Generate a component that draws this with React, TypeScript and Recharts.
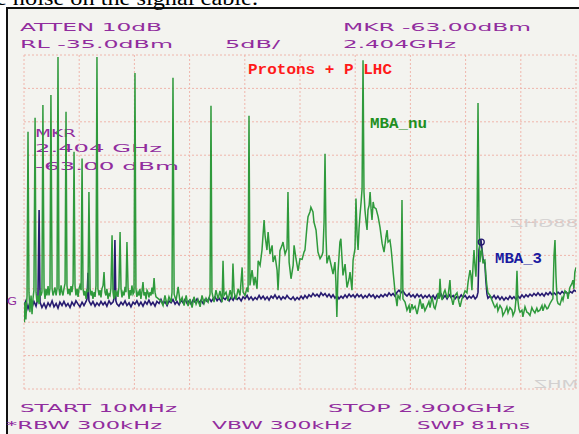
import { LineChart, Line, XAxis, YAxis, CartesianGrid, ReferenceDot } from "recharts";

// spectrum analyzer screen: 10 MHz .. 2.9 GHz, RL -35 dBm, 5 dB/div
const freqTicks = [10, 299, 588, 877, 1166, 1455, 1744, 2033, 2322, 2611, 2900];
const levelTicks = [-35, -40, -45, -50, -55, -60, -65, -70, -75, -80, -85];

const markerFreq = 2404;
const markerLevel = -63;

// [MHz, dBm]
const mbaNu: [number, number][] = [
  [12, -75], [15, -72], [20, -74.6], [26, -71], [31, -46.5], [36, -70.5], [41, -73.5], [47, -71], [52, -73.8], [57, -71.5],
  [62, -70.2], [68, -44.4], [73, -70.5], [78, -72], [83, -71], [89, -72.3], [94, -70.2], [99, -71], [104, -70.5], [109, -42.5],
  [115, -70], [120, -71.5], [125, -70], [130, -71], [136, -69.6], [141, -71], [146, -70], [151, -41], [157, -70], [162, -71],
  [167, -70.5], [172, -69.8], [178, -71], [183, -70], [188, -35.3], [193, -70], [198, -71], [204, -69.5], [209, -70.5], [214, -71],
  [219, -70], [225, -69.2], [230, -43.5], [235, -69.5], [240, -70.8], [246, -70], [251, -71], [256, -69.6], [261, -70.5], [267, -69.2],
  [272, -49.5], [277, -69.5], [282, -71], [288, -70], [293, -71.2], [298, -70], [303, -69.5], [309, -70.2], [314, -50.5], [319, -70],
  [324, -71], [329, -70.3], [335, -71.5], [340, -70], [345, -70.5], [350, -55.5], [356, -70], [361, -71], [366, -70.3], [371, -71.5],
  [377, -70.5], [382, -71.2], [387, -69.5], [392, -35.3], [397, -70], [403, -71], [408, -70.2], [413, -71.3], [418, -70], [424, -69.5],
  [429, -67.5], [434, -70.5], [439, -71], [444, -70], [450, -71.5], [455, -70.8], [460, -71], [465, -70], [471, -62], [476, -70.5],
  [481, -71.5], [486, -70.2], [491, -71], [497, -70.5], [502, -71.2], [507, -69.8], [513, -61.5], [518, -70], [523, -71.3], [528, -70.5],
  [534, -71], [539, -69.7], [544, -70.5], [549, -63], [555, -70], [560, -71.5], [565, -70.2], [570, -71], [575, -69.5], [581, -70.8],
  [586, -70.5], [591, -37.7], [596, -70], [601, -71.2], [607, -70.5], [612, -71], [617, -70], [622, -71.5], [628, -70.3], [633, -69],
  [638, -71], [644, -70.5], [649, -71.6], [654, -70.2], [659, -70.5], [664, -71.3], [670, -70.5], [675, -71], [680, -69.8], [685, -70.8],
  [691, -68.4], [696, -70.5], [701, -71.2], [727, -71.8], [738, -72.5], [748, -71], [759, -72.4], [769, -71.2], [780, -72], [785, -70.5],
  [790, -38.4], [796, -70.8], [806, -71.8], [817, -69.7], [827, -72], [838, -71.3], [848, -72.5], [859, -71], [869, -72.6], [879, -71.5],
  [890, -72.8], [900, -71.2], [911, -72.3], [921, -71.6], [932, -72.7], [942, -71], [953, -72.2], [963, -71.4], [974, -72], [984, -70.8],
  [989, -42.6], [994, -70.5], [1005, -72], [1015, -70.2], [1026, -71.5], [1036, -70.3], [1047, -72], [1052, -65.8], [1057, -71], [1068, -70.5],
  [1078, -71.8], [1089, -70.2], [1099, -71.5], [1104, -66.2], [1110, -70.5], [1120, -71.6], [1131, -70], [1141, -71], [1152, -66.8], [1157, -70.5],
  [1167, -71], [1178, -69.8], [1183, -70.5], [1188, -44.1], [1193, -69.5], [1204, -67.2], [1214, -69.5], [1220, -68.2], [1230, -70], [1236, -65.8],
  [1246, -66.5], [1256, -64.2], [1267, -59.7], [1272, -62], [1282, -64.2], [1288, -61.5], [1298, -64.8], [1309, -63.5], [1314, -66], [1324, -65],
  [1335, -67.2], [1340, -70.2], [1350, -64.3], [1361, -63.5], [1366, -63], [1377, -64.8], [1387, -64], [1392, -55.5], [1398, -66], [1408, -68.5],
  [1419, -66.5], [1424, -63.5], [1434, -65.5], [1445, -67.3], [1455, -65.5], [1466, -65.6], [1476, -64.5], [1481, -64.2], [1492, -60.5], [1497, -59.2],
  [1507, -58.5], [1512, -57.8], [1523, -58.5], [1528, -60], [1539, -61.2], [1549, -64.5], [1560, -65.5], [1570, -65], [1575, -64.5], [1581, -60],
  [1586, -49.8], [1591, -62], [1596, -66.2], [1607, -65], [1612, -65.7], [1622, -67], [1628, -67.8], [1638, -66], [1643, -69], [1648, -74.2],
  [1654, -67.5], [1664, -63], [1669, -62.5], [1675, -65.5], [1680, -68], [1691, -66.3], [1701, -69.8], [1712, -68.5], [1717, -67.5], [1727, -70.2],
  [1733, -65.7], [1743, -64], [1748, -56.5], [1754, -62], [1759, -64.2], [1764, -61], [1769, -59], [1775, -57], [1780, -55], [1785, -35.8],
  [1790, -55.5], [1795, -58.2], [1801, -60], [1806, -61.2], [1811, -58.2], [1817, -57.5], [1822, -55.5], [1827, -58], [1832, -59.7], [1838, -57],
  [1843, -57.8], [1853, -58], [1864, -59.2], [1874, -60.8], [1885, -63.2], [1895, -64.5], [1906, -62], [1911, -61.2], [1916, -63], [1926, -62.7],
  [1932, -64], [1937, -65.5], [1942, -67.3], [1952, -70.3], [1963, -72.6], [1968, -71], [1978, -71.5], [1984, -70], [1989, -56.7], [1994, -71.5],
  [2005, -72], [2015, -73.2], [2026, -72.5], [2031, -73.6], [2041, -72.3], [2047, -73], [2057, -72.6], [2068, -73.8], [2078, -72.4], [2083, -71.5],
  [2094, -73], [2099, -72.2], [2109, -73.3], [2120, -72.6], [2130, -71.9], [2136, -72.8], [2146, -71.2], [2157, -72.8], [2162, -73], [2172, -71.8],
  [2178, -70.6], [2183, -71.5], [2188, -68.5], [2193, -71], [2199, -71.7], [2209, -70.5], [2214, -70.2], [2225, -71.3], [2230, -71.2], [2240, -68.7],
  [2245, -71], [2256, -72.4], [2266, -71], [2277, -70.6], [2287, -72], [2293, -72.7], [2303, -71.5], [2308, -71.2], [2319, -70.3], [2329, -70.6],
  [2335, -69], [2345, -67.2], [2350, -68], [2355, -70.2], [2361, -66.5], [2366, -64.2], [2371, -66.5], [2376, -68.2], [2381, -65], [2387, -42.2],
  [2392, -60], [2397, -66], [2402, -64.5], [2407, -64.2], [2413, -66.2], [2418, -65.8], [2423, -65.7], [2428, -68], [2434, -69.7], [2439, -70.6],
  [2450, -71], [2460, -71.7], [2471, -72.5], [2476, -72.8], [2486, -72.3], [2491, -73.3], [2502, -72.5], [2512, -73], [2517, -74], [2528, -73.4],
  [2538, -72.7], [2544, -73.6], [2554, -72.8], [2565, -73.2], [2570, -74], [2580, -73.3], [2586, -71.5], [2591, -67.3], [2596, -71.8], [2601, -73],
  [2607, -73.5], [2617, -73.2], [2622, -74.2], [2633, -72.7], [2643, -73.5], [2649, -73.6], [2659, -74], [2669, -72.8], [2675, -73.2], [2685, -73.6],
  [2695, -72.9], [2701, -73.4], [2711, -73.2], [2722, -72.5], [2727, -73.3], [2737, -72.4], [2748, -73], [2753, -72.9], [2764, -72.2], [2774, -71.7],
  [2779, -71.5], [2785, -65], [2790, -62.7], [2795, -68], [2801, -71.7], [2806, -72.2], [2816, -72.4], [2827, -71.3], [2832, -71.7], [2842, -70.3],
  [2853, -70.6], [2858, -71.5], [2868, -69.8], [2879, -69.2], [2884, -68.7], [2889, -70], [2894, -67.5], [2900, -66.8],
];

const mba3: [number, number][] = [
  [10, -72.5], [20, -71.8], [31, -73], [41, -72], [52, -72.8], [62, -71.9], [73, -72.6], [78, -72], [83, -71.5], [89, -58.2],
  [94, -72], [104, -72.8], [115, -72.2], [125, -72.9], [136, -72.1], [146, -72.6], [157, -71.8], [167, -72.7], [178, -72.2], [188, -72.9],
  [198, -72], [209, -72.5], [219, -71.9], [230, -72.6], [240, -72.2], [251, -72.8], [261, -72], [272, -72.5], [282, -71.8], [293, -72.3],
  [303, -72.7], [314, -72], [324, -72.5], [335, -71.9], [340, -71.5], [345, -67.6], [350, -71.8], [361, -72.4], [371, -71.9], [382, -72.6],
  [392, -72.1], [403, -72.5], [413, -71.9], [424, -72.4], [434, -72], [444, -72.6], [455, -71.8], [465, -72.3], [476, -72], [481, -71.5],
  [486, -62.7], [491, -71.8], [497, -72.3], [507, -72.6], [518, -72], [528, -72.4], [539, -71.8], [549, -72.5], [560, -72.1], [570, -72.7],
  [581, -72], [591, -72.3], [601, -71.8], [612, -72.5], [622, -72], [633, -72.6], [644, -71.9], [654, -72.3], [664, -71.7], [675, -72.4],
  [685, -72], [696, -72.6], [706, -71.9], [717, -72.2], [727, -71.6], [738, -72.3], [748, -71.9], [759, -72.5], [769, -71.8], [780, -72.1],
  [790, -71.6], [801, -72.3], [811, -71.9], [822, -72.4], [832, -71.7], [843, -72.1], [853, -71.6], [864, -72.2], [874, -71.8], [885, -72.3],
  [895, -71.7], [906, -72], [916, -71.5], [927, -72.1], [937, -71.7], [948, -72.2], [958, -71.6], [969, -71.9], [979, -71.4], [990, -71.9],
  [1000, -71.5], [1010, -71.2], [1021, -71.8], [1031, -71.4], [1042, -71.9], [1052, -71.3], [1063, -71.6], [1073, -71.2], [1084, -71.8], [1094, -71.3],
  [1105, -71.7], [1115, -71.1], [1126, -71.6], [1136, -71.3], [1147, -71.8], [1157, -71.2], [1167, -71.5], [1178, -71], [1188, -71.6], [1199, -71.2],
  [1209, -71.7], [1220, -71.3], [1230, -71.6], [1241, -71], [1251, -71.5], [1262, -71.1], [1272, -71.6], [1283, -71.2], [1293, -71.7], [1304, -71.1],
  [1314, -71.4], [1324, -70.9], [1335, -71.5], [1345, -71.1], [1356, -71.6], [1366, -71.2], [1377, -71.5], [1387, -71], [1398, -71.4], [1408, -71.6],
  [1419, -71.2], [1429, -71.7], [1440, -71.3], [1450, -71.6], [1461, -71.1], [1471, -71.5], [1481, -71], [1492, -71.4], [1502, -70.9], [1513, -71.2],
  [1523, -70.7], [1534, -71.1], [1544, -70.8], [1555, -71.2], [1565, -70.6], [1576, -71], [1586, -70.7], [1597, -71.2], [1607, -70.8], [1618, -71.3],
  [1628, -70.9], [1638, -71.4], [1649, -71], [1659, -71.5], [1670, -71.1], [1680, -71.4], [1691, -70.9], [1701, -71.3], [1712, -70.8], [1722, -71.2],
  [1733, -70.9], [1743, -71.3], [1754, -70.8], [1764, -71.2], [1775, -70.9], [1785, -71.4], [1796, -71], [1806, -71.3], [1817, -70.8], [1827, -71.2],
  [1838, -70.9], [1848, -71.4], [1858, -71], [1869, -71.3], [1879, -70.9], [1890, -71.2], [1900, -70.8], [1911, -71.1], [1921, -70.6], [1932, -71],
  [1942, -70.7], [1952, -71.1], [1963, -70.5], [1973, -70.2], [1984, -70.6], [1994, -70.3], [2005, -70.8], [2015, -71.1], [2026, -70.7], [2036, -71.2],
  [2047, -70.9], [2057, -71.3], [2068, -70.8], [2078, -71.2], [2089, -70.9], [2099, -71.4], [2110, -71], [2120, -71.3], [2131, -70.9], [2141, -71.4],
  [2152, -71], [2162, -71.5], [2173, -70.9], [2183, -71.3], [2194, -70.8], [2204, -71.4], [2215, -71], [2225, -71.5], [2236, -70.9], [2246, -71.3],
  [2257, -71], [2267, -71.5], [2278, -71.1], [2288, -71.4], [2299, -70.9], [2309, -71.3], [2320, -71], [2330, -71.5], [2341, -71.1], [2351, -71.4],
  [2362, -71], [2372, -71.5], [2381, -71.2], [2387, -70.5], [2392, -64.2], [2397, -63.5], [2402, -62.6], [2407, -63.8], [2413, -65.5], [2418, -65.8],
  [2423, -66.2], [2428, -68.7], [2434, -70.8], [2439, -71.4], [2450, -71.1], [2460, -71.4], [2471, -71], [2481, -71.5], [2491, -71.1], [2502, -71.6],
  [2512, -71.2], [2523, -71.7], [2533, -71.3], [2544, -71.6], [2554, -71.1], [2565, -71.5], [2575, -71.2], [2586, -71.6], [2596, -71.1], [2607, -71.4],
  [2617, -70.9], [2628, -71.3], [2638, -70.9], [2649, -71.2], [2659, -70.8], [2670, -71.1], [2680, -70.7], [2691, -71], [2701, -70.6], [2712, -71],
  [2722, -70.7], [2733, -71.1], [2743, -70.6], [2754, -70.9], [2764, -70.5], [2775, -70.9], [2785, -70.6], [2796, -70.9], [2806, -70.5], [2817, -70.8],
  [2827, -70.4], [2838, -70.7], [2848, -70.5], [2859, -70.8], [2869, -70.4], [2880, -70.6], [2890, -70.2], [2900, -70.4],
];

const nuData = mbaNu.map(([f, v]) => ({ f, v }));
const mba3Data = mba3.map(([f, v]) => ({ f, v }));

const PURPLE = "#912c9e";
const lcd = { fontFamily: "'DejaVu Sans', sans-serif", fontSize: 11, fill: PURPLE };
const tag = { fontFamily: "'Liberation Mono', monospace", fontSize: 14, fontWeight: 700 };

function Txt({ x, y, w, children, style }: any) {
  return (
    <text x={x} y={y} textLength={w} lengthAdjust="spacingAndGlyphs" style={style}>
      {children}
    </text>
  );
}

export default function App() {
  return (
    <div style={{ position: "absolute", left: 0, top: 0, width: 579, height: 434, background: "#fff", overflow: "hidden" }}>
      {/* analyzer screen */}
      <div
        style={{
          position: "absolute",
          left: 6,
          top: 7,
          right: 0,
          bottom: 0,
          background: "#f3f3ef",
          borderLeft: "2px solid #111",
          borderTop: "2px solid #111",
        }}
      />
      <svg width={579} height={434} style={{ position: "absolute", left: 0, top: 0 }}>
        {/* caption line of the page above the photo, cut by the crop */}
        <Txt x={-4} y={5} w={262} style={{ fontFamily: "'Liberation Serif', serif", fontSize: 20, fill: "#000" }}>
          e noise on the signal cable.
        </Txt>
        <Txt x={20} y={31} w={142} style={lcd}>ATTEN 10dB</Txt>
        <Txt x={343} y={31} w={188} style={lcd}>MKR -63.00dBm</Txt>
        <Txt x={20} y={48} w={153} style={lcd}>RL -35.0dBm</Txt>
        <Txt x={225} y={48} w={55} style={lcd}>5dB/</Txt>
        <Txt x={343} y={48} w={113} style={lcd}>2.404GHz</Txt>
        <Txt x={35} y={137} w={41} style={lcd}>MKR</Txt>
        <Txt x={35} y={152} w={127} style={lcd}>2.404 GHz</Txt>
        <Txt x={35} y={170} w={144} style={lcd}>-63.00 dBm</Txt>
        <Txt x={7} y={305} w={10} style={lcd}>G</Txt>
        <Txt x={20} y={412} w={157} style={lcd}>START 10MHz</Txt>
        <Txt x={328} y={412} w={187} style={lcd}>STOP 2.900GHz</Txt>
        <Txt x={6} y={429} w={156} style={lcd}>*RBW 300kHz</Txt>
        <Txt x={212} y={429} w={140} style={lcd}>VBW 300kHz</Txt>
        <Txt x={417} y={429} w={113} style={lcd}>SWP 81ms</Txt>
        <g transform="translate(578,227) scale(-1,1)">
          <Txt x={0} y={0} w={68} style={{ ...lcd, fill: "#d2d0d0" }}>88GHZ</Txt>
        </g>
        <g transform="translate(578,388) scale(-1,1)">
          <Txt x={0} y={0} w={44} style={{ ...lcd, fill: "#d2d0d0" }}>MHZ</Txt>
        </g>
      </svg>
      <div style={{ position: "absolute", left: 0, top: 0 }}>
        <LineChart width={579} height={434} margin={{ top: 55, right: 3, bottom: 45, left: 24 }}>
          <CartesianGrid stroke="#efb6ac" strokeDasharray="2 2" strokeWidth={1} />
          <XAxis type="number" dataKey="f" domain={[10, 2900]} ticks={freqTicks} hide allowDataOverflow />
          <YAxis type="number" domain={[-85, -35]} ticks={levelTicks} hide allowDataOverflow />
          <Line
            data={mba3Data}
            dataKey="v"
            stroke="#261a70"
            strokeWidth={1.6}
            dot={false}
            isAnimationActive={false}
          />
          <Line
            data={nuData}
            dataKey="v"
            stroke="#2f9a3c"
            strokeWidth={1.5}
            dot={false}
            isAnimationActive={false}
          />
          <ReferenceDot x={markerFreq} y={markerLevel} r={3} fill="none" stroke="#261a70" strokeWidth={1.3} />
        </LineChart>
      </div>
      <svg width={579} height={434} style={{ position: "absolute", left: 0, top: 0, pointerEvents: "none" }}>
        <Txt x={248} y={74} w={144} style={{ ...tag, fill: "#ff1a1a" }}>Protons + P LHC</Txt>
        <Txt x={370} y={128} w={57} style={{ ...tag, fill: "#1f8f1f" }}>MBA_nu</Txt>
        <Txt x={495} y={263} w={47} style={{ ...tag, fill: "#1a1aa0" }}>MBA_3</Txt>
      </svg>
    </div>
  );
}
